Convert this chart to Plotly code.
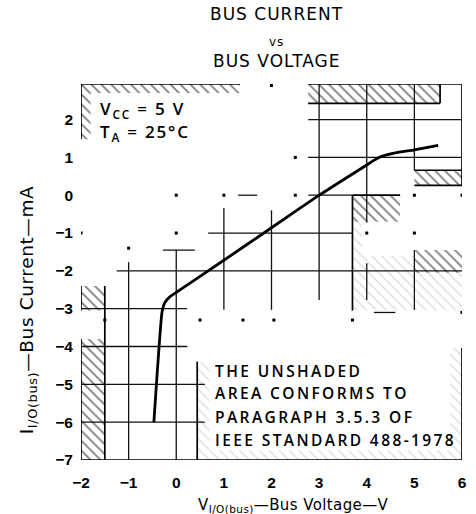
import plotly.graph_objects as go

# ---- measured bus characteristic (V in volts, I in mA) ----
bus_voltage = [-0.47, -0.30, -0.24, -0.13, 0.0, 1.0, 2.0, 3.0, 4.0, 4.15, 4.3, 4.6, 5.0, 5.5]
bus_current = [-6.0, -3.1, -2.84, -2.68, -2.57, -1.72, -0.86, 0.0, 0.8, 0.92, 1.02, 1.12, 1.2, 1.32]

x_ticks = [-2, -1, 0, 1, 2, 3, 4, 5, 6]
y_ticks = [-7, -6, -5, -4, -3, -2, -1, 0, 1, 2]
x_range = [-2, 6]
y_range = [-7, 2.94]

# ---- partial grid rulings: (fixed value, start, end) ----
grid_vertical = [
    (-1.0, -1.77, -7.0), (0.0, -1.45, -7.0), (1.0, -0.34, -3.03), (2.0, -0.40, -3.03),
    (3.0, 2.94, -2.77), (4.0, 2.94, -0.72), (4.0, -1.80, -2.77),
    (5.0, 2.94, 0.66), (5.0, -1.45, -3.03),
]
grid_horizontal = [
    (2.0, 2.77, 6.0), (1.0, 2.77, 6.0), (0.0, 2.77, 3.7), (0.0, 1.30, 1.70),
    (-1.0, 0.67, 3.7), (-1.45, -0.28, 0.39), (-2.0, -1.25, 6.0),
    (-3.0, -2.0, 0.23), (-3.1, 4.15, 4.6), (-4.0, -2.0, 0.23),
    (-5.0, -2.0, 0.60), (-6.0, -2.0, 0.60),
]

# ---- limit boundaries of the shaded areas ----
limit_vertical = [
    (-2.0, 2.94, 1.48), (-2.0, -2.40, -3.05), (-2.0, -3.80, -7.0), (-1.5, -2.40, -7.0),
    (0.44, -4.40, -7.0), (3.7, 0.0, -3.05), (5.54, 2.94, 2.43),
    (6.0, 2.94, 0.26), (6.0, -4.04, -7.0),
]
limit_horizontal = [
    (2.94, -2.0, 1.34), (2.94, 2.77, 6.0), (2.43, 2.77, 5.54),
    (0.66, 5.0, 6.0), (0.26, 5.0, 6.0), (0.0, 3.7, 4.7),
    (-7.0, -2.0, 6.0),
]

# shaded bands (x0, x1, y0, y1)
shade_dense = [
    (-2.0, 1.34, 2.70, 2.94), (-2.0, -1.80, 1.48, 2.94),
    (2.77, 5.54, 2.43, 2.94), (5.0, 6.0, 0.26, 0.66),
    (3.7, 4.7, -0.70, 0.0), (5.0, 6.0, -2.05, -1.45),
    (-2.0, -1.5, -3.05, -2.40), (-2.0, -1.5, -7.0, -3.80),
]
shade_faint = [
    (3.7, 5.0, -3.05, -1.60), (3.7, 3.9, -1.60, -0.70), (5.0, 6.0, -3.05, -2.05),
    (0.44, 0.70, -7.0, -4.40), (5.75, 6.0, -7.0, -4.04), (0.44, 6.0, -7.0, -6.75),
]

# small registration dots left on the ruled grid
mark_x = [0, 1, 2.5, 5, 6, -2, 0, 4, 5, -1, 2, 2.5, -1.5, 0.5, 1.4, 2.05, 3.7, 6]
mark_y = [0, 0, 0, 0, 0, -1, -1, -1, -1, -1.4, 2.9, 1.0, -3.3, -3.3, -3.3, -3.3, -3.3, -3.1]

title_lines = ["BUS CURRENT", "vs", "BUS VOLTAGE"]
conditions = ["V<sub>CC</sub> = 5 V", "T<sub>A</sub> = 25°C"]
note_lines = ["THE UNSHADED", "AREA CONFORMS TO", "PARAGRAPH 3.5.3 OF", "IEEE STANDARD 488-1978"]
x_title = "V<sub>I/O(bus)</sub>—Bus Voltage—V"
y_title = "I<sub>I/O(bus)</sub>—Bus Current—mA"


def segments(vert, horiz):
    xs, ys = [], []
    for x, a, b in vert:
        xs += [x, x, None]
        ys += [a, b, None]
    for y, a, b in horiz:
        xs += [a, b, None]
        ys += [y, y, None]
    return xs, ys


def boxes(rects):
    xs, ys = [], []
    for x0, x1, y0, y1 in rects:
        xs += [x0, x1, x1, x0, x0, None]
        ys += [y0, y0, y1, y1, y0, None]
    return xs, ys


def spaced(txt, px):
    """Wrap text in a span with typewriter-style letter spacing."""
    return f'<span style="letter-spacing:{px}px">{txt}</span>'


fig = go.Figure()

for rects, colour, solid in [(shade_faint, "#a8a8a8", 0.16), (shade_dense, "#000000", 0.25)]:
    bx, by = boxes(rects)
    fig.add_trace(go.Scatter(
        x=bx, y=by, mode="none", fill="toself", fillcolor="rgba(0,0,0,0)",
        fillpattern=dict(shape="\\", size=7, solidity=solid, fgcolor=colour,
                         bgcolor="rgba(0,0,0,0)"),
        hoverinfo="skip", showlegend=False))

gx, gy = segments(grid_vertical, grid_horizontal)
fig.add_trace(go.Scatter(x=gx, y=gy, mode="lines", line=dict(color="#111111", width=1.3),
                         hoverinfo="skip", showlegend=False))
lx, ly = segments(limit_vertical, limit_horizontal)
fig.add_trace(go.Scatter(x=lx, y=ly, mode="lines", line=dict(color="#000000", width=1.7),
                         hoverinfo="skip", showlegend=False))

fig.add_trace(go.Scatter(x=mark_x, y=mark_y, mode="markers",
                         marker=dict(color="#000000", size=3, symbol="square"),
                         hoverinfo="skip", showlegend=False))

fig.add_trace(go.Scatter(x=bus_voltage, y=bus_current, mode="lines",
                         line=dict(color="#000000", width=2.8, shape="spline", smoothing=0.4),
                         showlegend=False))

text_font = "DejaVu Sans"
label_font = "Open Sans"
ann = []
for txt, yp, size in zip(title_lines, [1.185, 1.112, 1.06], [17, 12, 17]):
    ann.append(dict(text=spaced(txt, 1.0), xref="paper", yref="paper", x=0.512, y=yp,
                    xanchor="center", yanchor="middle", showarrow=False,
                    font=dict(family=text_font, size=size, color="#000")))
for txt, yv in zip(conditions, [2.27, 1.66]):
    ann.append(dict(text=spaced(txt, 1.8), xref="x", yref="y", x=-1.64, y=yv, xanchor="left",
                    yanchor="middle", showarrow=False,
                    font=dict(family=label_font, size=17, color="#000", weight=600)))
for txt, yv in zip(note_lines, [-4.66, -5.22, -5.85, -6.48]):
    ann.append(dict(text=spaced(txt, 2.4), xref="x", yref="y", x=0.77, y=yv, xanchor="left",
                    yanchor="middle", showarrow=False,
                    font=dict(family=label_font, size=15.5, color="#000", weight=600)))

# axis titles, placed where the printed captions sit
ann.append(dict(text=spaced(x_title, 0.4), xref="paper", yref="paper", x=0.559, y=-0.12,
                xanchor="center", yanchor="middle", showarrow=False,
                font=dict(family=text_font, size=15, color="#000")))
ann.append(dict(text=spaced(y_title, 0.6), xref="paper", yref="paper", x=-0.14, y=0.40,
                xanchor="center", yanchor="middle", showarrow=False, textangle=-90,
                font=dict(family=text_font, size=18.5, color="#000")))

axis_common = dict(showgrid=False, zeroline=False, showline=False, ticks="",
                   tickfont=dict(family="Liberation Sans", size=15.5, color="#000", weight="bold"))

fig.update_layout(
    width=476, height=514,
    margin=dict(l=81, r=14, t=84, b=54, autoexpand=False),
    paper_bgcolor="white", plot_bgcolor="white",
    annotations=ann,
    xaxis=dict(range=x_range, tickvals=x_ticks, ticklabelstandoff=11, **axis_common),
    yaxis=dict(range=y_range, tickvals=y_ticks, ticklabelstandoff=7, **axis_common),
)

fig.write_html("out.html")
